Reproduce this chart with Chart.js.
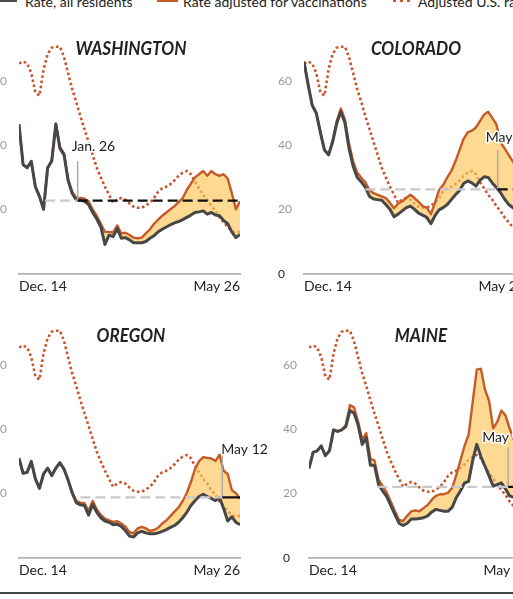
<!DOCTYPE html>
<html>
<head>
<meta charset="utf-8">
<script src="https://cdn.jsdelivr.net/npm/chart.js@4.4.1/dist/chart.umd.min.js"></script>
<style>
html, body { margin: 0; padding: 0; background: #fff; }
body { width: 513px; height: 599px; position: relative; overflow: hidden; font-family: Lato, sans-serif; color: #222; }
canvas { position: absolute; }
.title { position: absolute; font: italic 700 19px/19px Lato, sans-serif; color: #222; white-space: nowrap; transform: translateX(-50%) scaleX(0.9); }
.leg { position: absolute; top: -5px; font: 14px/14px Lato, sans-serif; color: #222; white-space: nowrap; }
.key { position: absolute; top: -1px; height: 0; }
.rule { position: absolute; left: 0; width: 513px; top: 592px; height: 2px; background: #444; }
</style>
</head>
<body>
<div class="key" style="left:0;width:17px;border-top:3px solid #4a4a4a"></div>
<div class="leg" style="left:25px">Rate, all residents</div>
<div class="key" style="left:157px;width:21px;border-top:3px solid #c65a28"></div>
<div class="leg" style="left:183px">Rate adjusted for vaccinations</div>
<div class="key" style="left:393px;width:17px;border-top:3px dotted #cc5a2e"></div>
<div class="leg" style="left:418px">Adjusted U.S. rate</div>
<div class="rule"></div>

<script>
// days since Dec. 14, one sample every 3 days
const sampleDays = Array.from({ length: 55 }, (_, i) => i * 3);
const lastDay = 162;
const xLabels = ['Dec. 14', 'May 26'];
const yTicks = [0, 20, 40, 60];
const stateNames = ['WASHINGTON', 'COLORADO', 'OREGON', 'MAINE'];

const usRate = [65.4, 66.0, 65.4, 62.4, 56.4, 55.4, 63.5, 68.3, 70.3, 70.6, 70.6, 67.4, 62.4, 57.4, 53.4, 49.0, 45.0, 41.0, 37.0, 33.0,
  30.0, 27.1, 24.6, 22.1, 23.1, 23.6, 23.1, 21.9, 20.9, 20.6, 20.6, 21.3, 22.1, 23.6, 25.6, 26.6, 27.1, 27.9, 29.1, 30.5,
  31.5, 32.0, 31.0, 28.6, 26.6, 24.6, 23.1, 21.1, 19.6, 17.6, 16.1, 14.6, 13.3, 12.9, 13.1];

const waAll = [46.5, 34.0, 33.0, 35.0, 27.1, 24.1, 20.1, 33.0, 35.0, 46.5, 39.0, 37.0, 29.0, 25.0, 23.0, 23.0, 22.6, 21.6, 19.1, 17.1,
  14.6, 9.2, 12.1, 11.6, 14.1, 11.1, 11.3, 10.6, 9.7, 9.7, 9.7, 10.1, 11.1, 11.9, 13.1, 13.9, 14.6, 15.3, 15.9, 16.3,
  16.9, 17.6, 18.3, 19.1, 19.3, 19.6, 18.6, 19.1, 18.3, 18.1, 16.6, 15.6, 13.1, 11.3, 12.3];
const waAdj = [46.5, 34.0, 33.0, 35.0, 27.1, 24.1, 20.1, 33.0, 35.5, 46.8, 39.5, 37.5, 29.5, 25.5, 23.6, 23.6, 23.4, 22.6, 20.1, 18.1,
  15.6, 13.1, 13.1, 12.9, 15.1, 12.6, 12.8, 12.1, 11.3, 11.1, 11.3, 12.6, 13.9, 15.6, 16.9, 18.1, 19.1, 20.1, 21.1, 22.3,
  23.6, 26.1, 28.1, 30.0, 31.0, 32.0, 30.5, 32.0, 31.0, 30.5, 31.0, 29.6, 25.1, 20.1, 22.6];

const coAll = [65.9, 58.9, 52.4, 50.0, 44.0, 38.5, 37.0, 41.0, 46.8, 50.4, 47.0, 39.0, 33.5, 30.0, 28.6, 26.9, 24.1, 23.3, 23.1, 22.9,
  21.6, 20.1, 17.8, 18.6, 19.6, 20.6, 21.1, 20.1, 18.9, 18.3, 17.6, 15.6, 18.1, 19.9, 20.6, 21.6, 23.1, 24.6, 25.9, 28.1,
  28.9, 28.3, 27.3, 29.1, 30.2, 30.0, 28.3, 26.9, 25.3, 23.3, 21.6, 20.6, 19.6, 19.1, 18.6];
const coAdj = [65.9, 58.9, 52.4, 50.0, 44.0, 38.5, 37.0, 41.5, 47.5, 51.4, 48.0, 40.5, 35.0, 31.5, 29.9, 28.5, 26.1, 25.1, 24.6, 24.1,
  23.6, 22.1, 20.4, 21.9, 22.6, 23.6, 24.6, 23.6, 22.4, 21.1, 20.6, 18.6, 22.1, 26.1, 27.6, 30.0, 32.0, 35.0, 38.5, 42.0,
  44.0, 44.5, 45.5, 47.5, 49.5, 50.4, 48.5, 46.5, 41.0, 39.0, 37.0, 35.0, 33.0, 31.0, 29.0];

const orAll = [31.0, 26.3, 26.6, 30.0, 24.6, 21.6, 26.1, 27.9, 25.6, 27.9, 29.6, 27.6, 24.2, 20.2, 17.2, 16.5, 16.3, 13.3, 16.7, 14.2,
  12.5, 11.5, 11.1, 10.3, 10.5, 9.8, 8.5, 6.8, 6.5, 7.8, 8.3, 7.8, 7.5, 7.5, 7.8, 8.3, 8.8, 9.5, 10.1, 11.1,
  12.5, 14.2, 16.3, 17.8, 19.1, 19.8, 19.1, 18.5, 17.8, 18.8, 15.4, 11.5, 12.8, 11.1, 10.3];
const orAdj = [31.0, 26.3, 26.6, 30.0, 24.6, 21.6, 26.1, 27.9, 25.6, 27.9, 29.6, 27.6, 24.2, 20.4, 17.7, 17.2, 17.0, 14.6, 17.7, 15.1,
  13.4, 12.2, 11.7, 11.2, 11.4, 10.7, 9.7, 8.0, 7.7, 9.2, 9.7, 9.2, 8.4, 8.7, 9.4, 10.7, 11.7, 13.0, 14.4, 15.7,
  17.7, 20.2, 23.6, 27.6, 30.1, 31.3, 31.1, 30.9, 30.1, 32.1, 27.1, 26.1, 21.1, 20.1, 18.4];

const meAll = [27.8, 32.8, 33.3, 34.8, 31.8, 33.3, 39.8, 39.3, 39.8, 40.8, 45.8, 45.0, 41.3, 35.3, 37.3, 28.8, 28.8, 22.8, 20.8, 19.1,
  16.3, 13.5, 10.8, 10.1, 10.8, 12.1, 12.1, 12.3, 12.5, 13.1, 14.3, 15.1, 14.8, 14.5, 14.5, 15.8, 18.8, 20.8, 23.3, 23.8,
  30.3, 35.3, 31.5, 28.5, 25.5, 22.3, 22.8, 23.3, 21.5, 19.3, 18.8, 18.3, 17.8, 17.3, 17.3];
const meAdj = [27.8, 32.8, 33.3, 34.8, 31.8, 33.3, 39.8, 39.3, 39.8, 41.3, 47.5, 46.8, 42.3, 36.8, 38.8, 30.8, 30.3, 24.3, 22.3, 20.3,
  17.5, 14.5, 11.8, 11.5, 13.1, 14.5, 14.8, 14.5, 15.5, 16.5, 18.1, 19.3, 19.8, 19.8, 20.3, 21.8, 25.8, 30.3, 34.8, 38.3,
  48.5, 58.5, 58.8, 52.3, 48.8, 40.3, 42.3, 45.8, 44.3, 40.3, 37.0, 34.0, 32.0, 30.0, 28.0];

// reference level and marker date for each state
const refLevels = [22.8, 26.3, 18.8, 22.1];
const refStartDays = [19, 45, 45, 50];
const markerDays = [43, 142, 149, 146];
const markerTops = [35, 38.5, 34.6, 34.3];
const markerLabels = ['Jan. 26', 'May 5', 'May 12', 'May 9'];

const PLOT_W = 221, PLOT_H = 241, Y_MAX = 72;
const panels = [
  { left: 19, bottom: 274, titleTop: 38, all: waAll, adj: waAdj, labelDx: -6, labelDy: -10, blackDash: [10, 5] },
  { left: 304, bottom: 274, titleTop: 38, all: coAll, adj: coAdj, labelDx: -12, labelDy: -8, blackDash: [10, 5] },
  { left: 19, bottom: 558, titleTop: 325, all: orAll, adj: orAdj, labelDx: -1, labelDy: 7, blackDash: [] },
  { left: 309, bottom: 558, titleTop: 325, all: meAll, adj: meAdj, labelDx: -26, labelDy: -6, blackDash: [10, 5] }
];

function pts(values) {
  return values.map((v, i) => ({ x: sampleDays[i], y: v }));
}

function markerLabelPlugin(k) {
  return {
    id: 'markerLabel',
    afterDatasetsDraw(chart) {
      const { ctx, scales: { x, y } } = chart;
      const px = x.getPixelForValue(markerDays[k]) + panels[k].labelDx;
      const py = y.getPixelForValue(markerTops[k]) + panels[k].labelDy;
      ctx.save();
      ctx.font = '14px Lato';
      ctx.textAlign = 'left';
      ctx.textBaseline = 'alphabetic';
      ctx.lineJoin = 'round';
      ctx.lineWidth = 3;
      ctx.strokeStyle = '#fff';
      ctx.strokeText(markerLabels[k], px, py);
      ctx.fillStyle = '#222';
      ctx.fillText(markerLabels[k], px, py);
      ctx.restore();
    }
  };
}

panels.forEach((p, k) => {
  const w = PLOT_W + 60, h = PLOT_H + 36;
  const c = document.createElement('canvas');
  c.width = w; c.height = h;
  c.style.width = w + 'px'; c.style.height = h + 'px';
  c.style.left = (p.left - 30) + 'px';
  c.style.top = (p.bottom - PLOT_H - 10) + 'px';
  document.body.appendChild(c);

  const t = document.createElement('div');
  t.className = 'title';
  t.textContent = stateNames[k];
  t.style.left = (p.left + PLOT_W / 2 + 1.5) + 'px';
  t.style.top = p.titleTop + 'px';
  document.body.appendChild(t);

  const level = refLevels[k];
  new Chart(c, {
    type: 'line',
    data: {
      datasets: [
        { data: [{ x: markerDays[k], y: level }, { x: lastDay, y: level }], borderColor: '#111', borderWidth: 2.3, borderDash: p.blackDash },
        { data: [{ x: refStartDays[k], y: level }, { x: markerDays[k], y: level }], borderColor: '#c9c9c9', borderWidth: 2.3, borderDash: [10, 5] },
        { data: [{ x: markerDays[k], y: level }, { x: markerDays[k], y: markerTops[k] }], borderColor: '#aaa', borderWidth: 1.5 },
        { data: pts(p.all), borderColor: '#474747', borderWidth: 3 },
        { data: pts(p.adj), borderColor: '#c65a28', borderWidth: 2.4,
          fill: { target: 3, above: 'rgba(252,196,86,0.65)', below: 'rgba(0,0,0,0)' } },
        { data: pts(usRate), borderColor: '#c9552c', borderWidth: 2.6, borderDash: [2.6, 2.6] }
      ]
    },
    options: {
      responsive: false,
      animation: false,
      events: [],
      layout: { padding: { left: 4, top: 10, right: 30, bottom: 0 } },
      elements: {
        point: { radius: 0 },
        line: { tension: 0, borderCapStyle: 'butt', borderJoinStyle: 'round' }
      },
      plugins: { legend: { display: false }, tooltip: { enabled: false } },
      scales: {
        x: {
          type: 'linear', min: 0, max: lastDay,
          grid: { display: false, drawTicks: false },
          border: { display: true, color: '#b3b3b3', width: 1.8 },
          afterBuildTicks: s => { s.ticks = [{ value: 0 }, { value: lastDay }]; },
          afterFit: s => { s.height = 26; },
          ticks: {
            align: 'inner', padding: 4, maxRotation: 0, autoSkip: false, color: '#222',
            font: { family: 'Lato', size: 14 },
            callback: (v, i) => xLabels[i]
          }
        },
        y: {
          min: 0, max: Y_MAX,
          grid: { display: false, drawTicks: false },
          border: { display: false },
          afterBuildTicks: s => { s.ticks = yTicks.map(v => ({ value: v })); },
          afterFit: s => { s.width = 26; },
          ticks: {
            crossAlign: 'far', padding: 12,
            color: ctx => ctx.tick.value === 0 ? '#222' : '#9a9a9a',
            font: { family: 'Lato', size: 12 }
          }
        }
      }
    },
    plugins: [markerLabelPlugin(k)]
  });
});
</script>
</body>
</html>
